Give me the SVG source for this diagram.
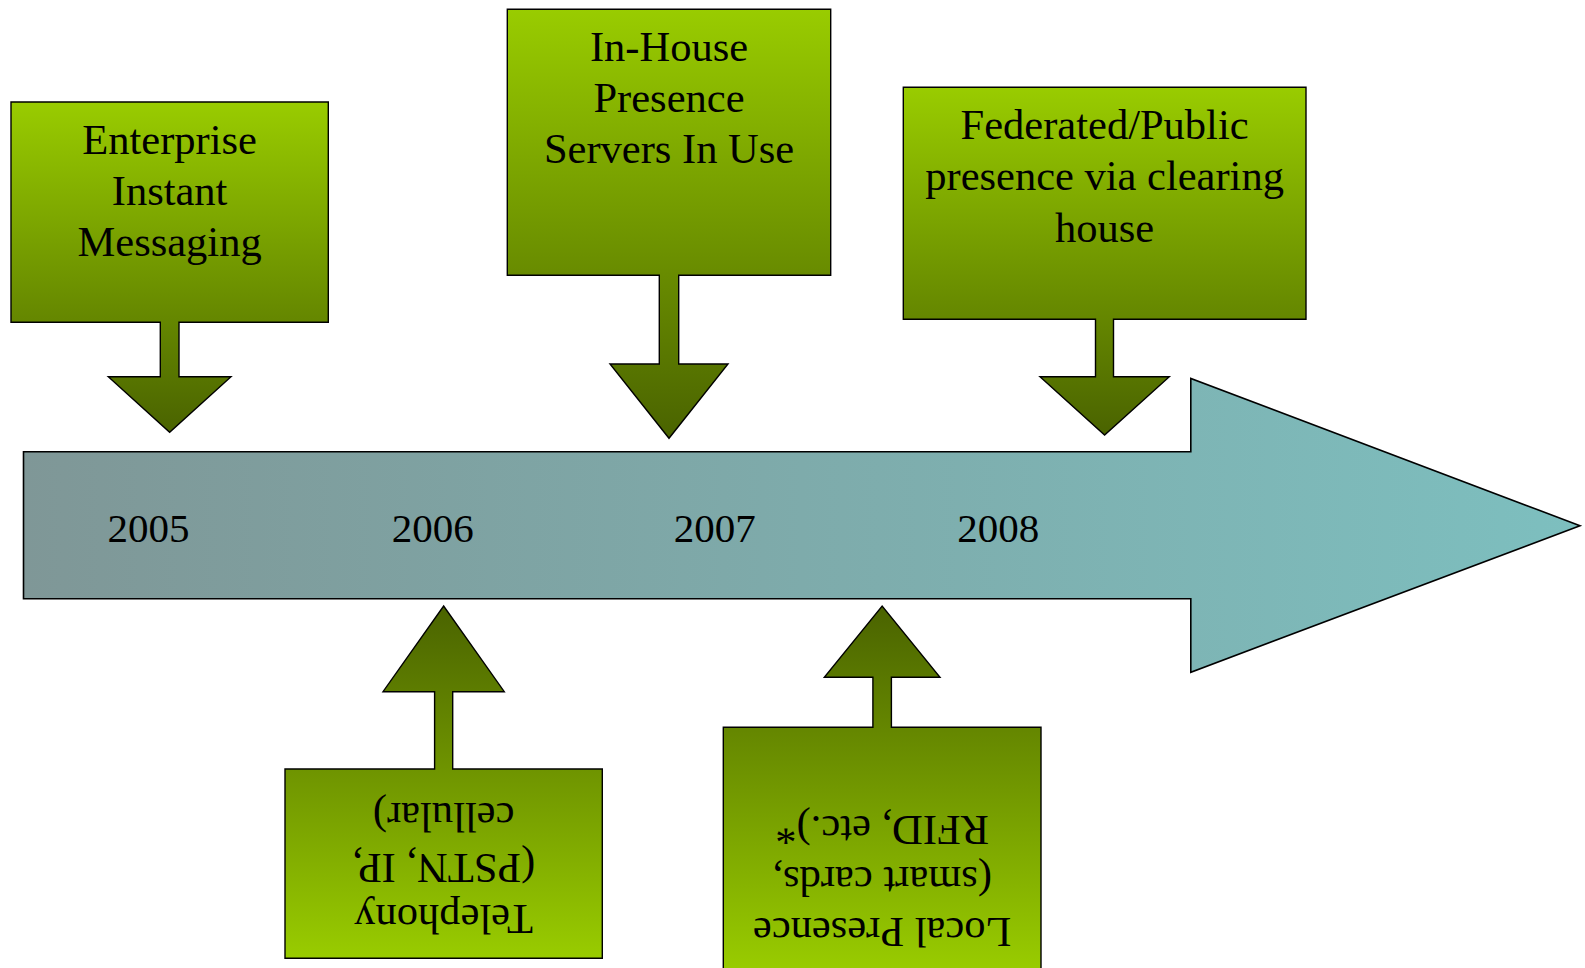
<svg xmlns="http://www.w3.org/2000/svg" width="1585" height="968" viewBox="0 0 1585 968">
  <defs>
    <linearGradient id="gGreen" x1="0" y1="0" x2="0" y2="1">
      <stop offset="0" stop-color="#99CC00"/>
      <stop offset="1" stop-color="#4A6300"/>
    </linearGradient>
    <linearGradient id="gTeal" x1="0" y1="0" x2="1" y2="0">
      <stop offset="0" stop-color="#7F9797"/>
      <stop offset="1" stop-color="#7DBFBF"/>
    </linearGradient>
  </defs>
  <style>
    .callout { fill: url(#gGreen); stroke: #000; stroke-width: 1.4; stroke-linejoin: miter; }
    .timeline { fill: url(#gTeal); stroke: #000; stroke-width: 1.6; }
    .lbl { font-family: "Liberation Serif", "Times New Roman", serif; font-size: 42.5px; fill: #000; text-anchor: middle; }
    .yr { font-family: "Liberation Serif", "Times New Roman", serif; font-size: 41px; fill: #000; text-anchor: middle; }
  </style>

  <g id="timeline">
    <path class="timeline" d="M23.5,451.8 H1190.8 V378.5 L1580,525.7 L1190.8,672.3 V598.7 H23.5 Z"/>
    <text class="yr" x="148.5" y="541.7">2005</text>
    <text class="yr" x="432.7" y="541.7">2006</text>
    <text class="yr" x="714.7" y="541.7">2007</text>
    <text class="yr" x="998.3" y="541.7">2008</text>
  </g>

  <g id="connectors"></g>

  <g id="node-enterprise-im">
    <path class="callout" d="M11,102 H328.3 V322.3 H179 V376.7 H231 L169.65,432.3 L108.3,376.7 H160.3 V322.3 H11 Z"/>
    <text class="lbl" x="169.6" y="153.5">Enterprise</text>
    <text class="lbl" x="169.6" y="205">Instant</text>
    <text class="lbl" x="169.6" y="256">Messaging</text>
  </g>

  <g id="node-inhouse-presence">
    <path class="callout" d="M507.3,9.3 H830.7 V275.3 H678.7 V364 H728 L669,438.3 L610,364 H659.3 V275.3 H507.3 Z"/>
    <text class="lbl" x="669" y="61">In-House</text>
    <text class="lbl" x="669" y="112">Presence</text>
    <text class="lbl" x="669" y="163.3">Servers In Use</text>
  </g>

  <g id="node-federated-presence">
    <path class="callout" d="M903.3,87.3 H1306 V319.3 H1113.5 V376.7 H1169.3 L1104.6,435 L1040,376.7 H1095.5 V319.3 H903.3 Z"/>
    <text class="lbl" x="1104.6" y="139.3">Federated/Public</text>
    <text class="lbl" x="1104.6" y="190.3">presence via clearing</text>
    <text class="lbl" x="1104.6" y="241.7">house</text>
  </g>

  <g id="node-telephony" transform="rotate(180 443.65 863.65)">
    <path class="callout" d="M285,769 H602.3 V958.3 H452.7 V1035.6 H504.3 L443.65,1121.3 L383,1035.6 H434.6 V958.3 H285 Z"/>
    <text class="lbl" x="443.65" y="822.3">Telephony</text>
    <text class="lbl" x="443.65" y="873.3">(PSTN, IP,</text>
    <text class="lbl" x="443.65" y="924.3">cellular)</text>
  </g>

  <g id="node-local-presence" transform="rotate(180 882.15 848.65)">
    <path class="callout" d="M723.3,727.3 H1041 V970 H891.4 V1020 H940 L882.15,1091.3 L824.3,1020 H872.9 V970 H723.3 Z"/>
    <text class="lbl" x="882.15" y="779.3">Local Presence</text>
    <text class="lbl" x="882.15" y="830.3">(smart cards,</text>
    <text class="lbl" x="882.15" y="881.3">RFID, etc.)*</text>
  </g>
</svg>
